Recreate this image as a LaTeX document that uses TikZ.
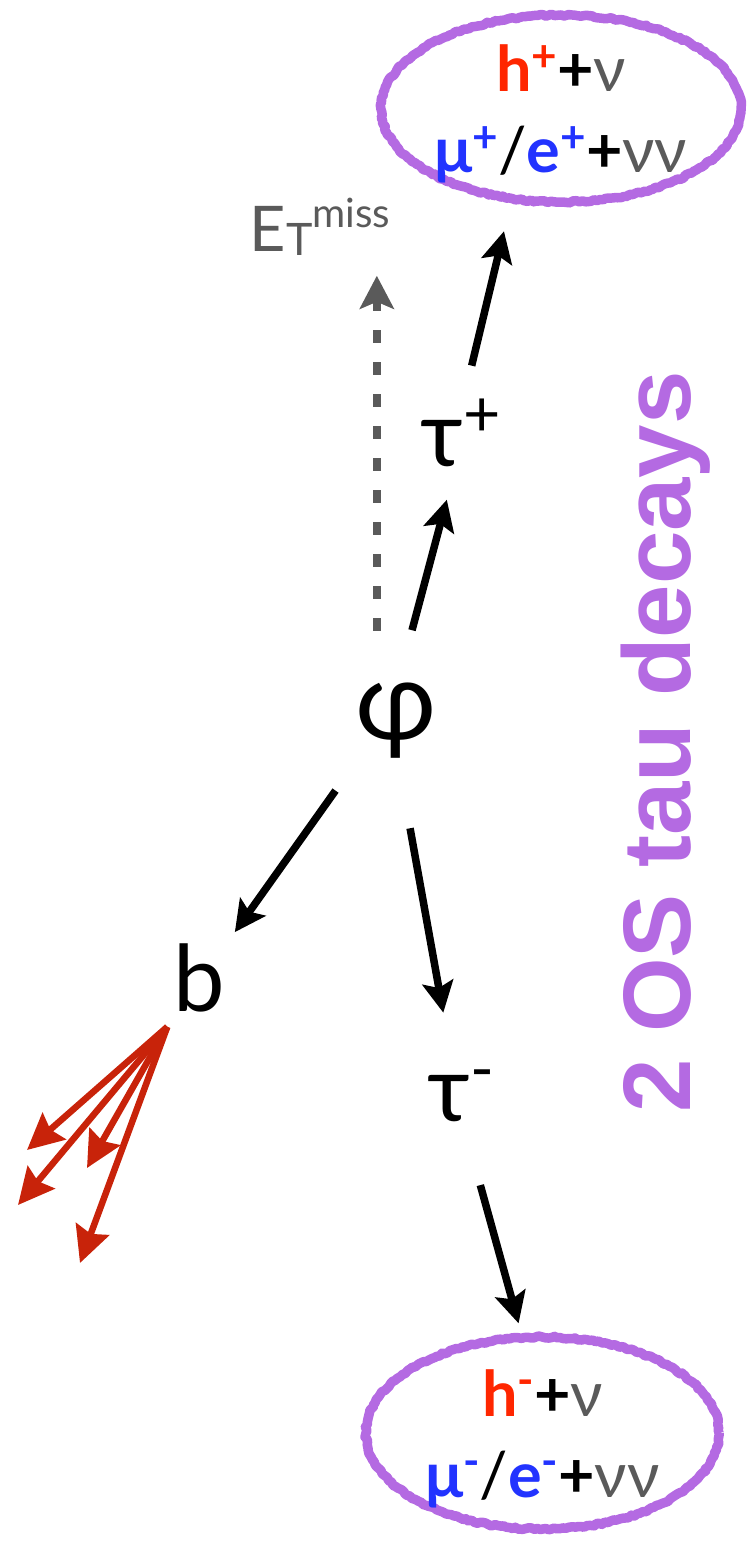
\documentclass[tikz,border=0pt]{standalone}
\usepackage{fontspec}
\setmainfont{Lato}
\newfontfamily\titlefont{Liberation Sans}
\usetikzlibrary{arrows.meta,shapes.geometric,decorations.pathmorphing}

\definecolor{decaypurple}{RGB}{180,106,226}
\definecolor{hadred}{RGB}{255,38,0}
\definecolor{lepblue}{RGB}{34,51,255}
\definecolor{nugray}{RGB}{90,90,90}
\definecolor{jetred}{RGB}{200,35,10}

% raised charge sign
\newcommand{\chg}[1]{\raisebox{0.33em}{\scalebox{0.7}{#1}}}
% channel text: coloured hadron / lepton, grey neutrinos
\newcommand{\had}[1]{\textcolor{hadred}{h\chg{#1}}+\textcolor{nugray}{\mdseries ν}}
\newcommand{\lep}[1]{\textcolor{lepblue}{μ\chg{#1}}{\mdseries /}\textcolor{lepblue}{e\chg{#1}}+\textcolor{nugray}{\mdseries νν}}

\tikzset{
  particle/.style={circle, inner sep=0pt, font=\fontsize{92}{92}\selectfont},
  decay/.style={line width=7.5pt, -{Stealth[length=31pt,width=31pt,inset=6pt]}},
  jet/.style={jetred, line width=6.5pt, -{Stealth[length=36pt,width=35pt,inset=5pt]}},
  metarrow/.style={nugray, line width=8pt, dash pattern=on 13pt off 19pt,
    -{Stealth[length=33pt,width=34pt,inset=7pt]}},
  channel/.style={ellipse, inner sep=0pt, draw=decaypurple, line width=9.5pt, line join=round,
    decorate, decoration={random steps, segment length=3pt, amplitude=1pt}},
  chantext/.style={align=center, anchor=base, font=\fontsize{63}{81}\selectfont\bfseries},
}

\begin{document}
\begin{tikzpicture}[x=1pt, y=-1pt]
  \useasboundingbox (0,0) rectangle (749,1541);

  % the particles
  \node[particle, minimum size=184pt, font=\fontsize{110}{110}\selectfont] (phi) at (396,721) {φ};
  \node[particle, minimum size=136pt] (taup) at (461,433) {τ\chg{+}};
  \node[particle, minimum size=170pt] (taum) at (461,1096) {τ\chg{-}};
  \node[particle, minimum size=116pt] (b) at (199,978) {b};
  \node[inner sep=0pt, text=nugray, font=\fontsize{63}{63}\selectfont] (met) at (320,227)
    {E\raisebox{-0.07em}{\scalebox{0.71}{T}}\raisebox{0.37em}{\scalebox{0.64}{miss}}};

  % the two decay channels
  \node[channel, minimum width=360pt, minimum height=187pt] (decp) at (561,108.5) {};
  \node[chantext] (decptxt) at ([yshift=-64.5pt]decp.center) {\had{+}\\ \lep{+}};
  \node[channel, minimum width=353pt, minimum height=192pt] (decm) at (542.5,1433) {};
  \node[chantext] (decmtxt) at ([yshift=-64pt]decm.center) {\had{-}\\ \lep{-}};

  % side label
  \node[rotate=90, anchor=base, text=decaypurple, font=\titlefont\fontsize{96}{96}\selectfont\bfseries]
    (title) at (690,742) {2 OS tau decays};

  % decay arrows
  \draw[decay] (phi.80) -- (taup.258);
  \draw[decay, shorten >=29pt] (taup.81) -- (decp.242);
  \draw[decay] (phi.229.5) -- (b.52);
  \draw[decay, shorten <=16pt] (phi.277.5) -- (taum.102.5);
  \draw[decay, shorten <=6pt, shorten >=10pt] (taum.282) -- (decm.102.8);
  \draw[metarrow, shorten >=20pt] (phi.102) -- (phi.102 |- met.south);

  % b jet
  \coordinate (j1) at (27,1150);
  \coordinate (j2) at (18,1205);
  \coordinate (j3) at (87,1168);
  \coordinate (j4) at (80,1263);
  \foreach \j in {j1,j2,j3,j4}
    \draw[jet] (b.237) -- (\j);
\end{tikzpicture}
\end{document}
